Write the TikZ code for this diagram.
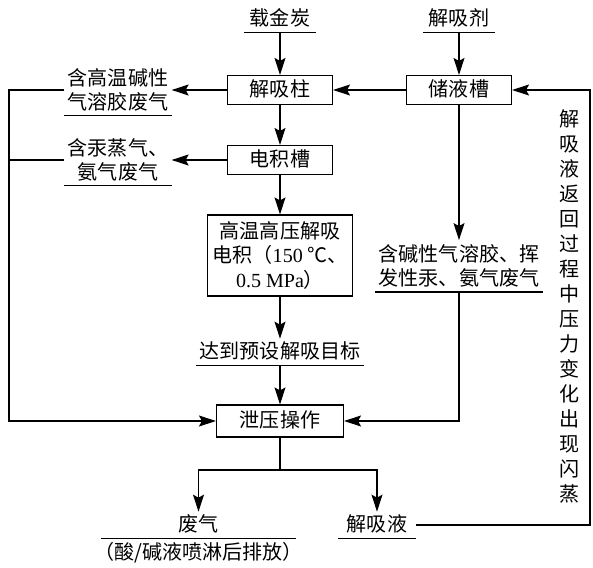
\documentclass[tikz,border=0pt]{standalone}
\usepackage{fontspec}
\setmainfont{Noto Sans CJK SC}
\newfontfamily\latfont{Liberation Serif}
\usetikzlibrary{arrows.meta}
\usetikzlibrary{positioning}
\tikzset{
    stage/.style={
           rectangle,
           draw=black,
           minimum width=2.1cm,
           minimum height=0.58cm,
           inner sep=2pt,
           text centered,
           },
    feed/.style={
           inner xsep=0.06cm,
           inner ysep=0.08cm,
           align=center,
           append after command={(\tikzlastnode.south west) edge[-] (\tikzlastnode.south east)},
           },
    oneline/.style={
           text height=0.88em,
           text depth=0.12em,
           },
}

\begin{document}
\begin{tikzpicture}[->,>={Stealth[length=0.34cm,width=0.22cm,inset=0.06cm]},
  line width=0.65pt, font=\fontsize{11.4}{13.7}\selectfont]
 \useasboundingbox (0,0) rectangle (11.86,-11.34);

 \node[stage, oneline] (JXZ) at (5.6,-1.8) {解吸柱};

 \node[feed, oneline,
 inner xsep=0.11cm,
 node distance=1.42cm,
 above of=JXZ] (ZJT) {载金炭};

 \node[stage, oneline,
 node distance=3.58cm,
 right of=JXZ] (CYC) {储液槽};

 \node[feed, oneline,
 inner xsep=0.11cm,
 node distance=1.42cm,
 above of=CYC] (JXJ) {解吸剂};

 \node[stage, oneline,
 node distance=1.4cm,
 below of=JXZ] (DJC) {电积槽};

 \node[stage,
 align=center,
 minimum width=2.9cm,
 minimum height=1.62cm,
 node distance=1.91cm,
 below of=DJC] (GWGY)
 {高温高压解吸\\电积（{\latfont 150} ℃、\\{\latfont 0.5 MPa}）};

 \node[feed, oneline,
 node distance=1.93cm,
 below of=GWGY] (DDYS) {达到预设解吸目标};

 \node[stage, oneline,
 minimum width=2.54cm,
 minimum height=0.64cm,
 node distance=1.38cm,
 below of=DDYS] (XYCZ) {泄压操作};

 \node[feed,
 node distance=3.24cm,
 left of=JXZ] (HGW) {含高温碱性\\气溶胶废气};

 \node[feed,
 node distance=3.24cm,
 left of=DJC] (HGZ) {含汞蒸气、\\氨气废气};

 \node[feed,
 node distance=3.52cm,
 below of=CYC] (HJX) {含碱性气溶胶、挥\\发性汞、氨气废气};

 \node[feed, oneline, minimum width=3.86cm] (FQ) at (3.97,-10.5) {废气};
 \node[oneline, inner sep=0pt,
 node distance=0.56cm,
 below of=FQ] (FQBZ) {（酸/碱液喷淋后排放）};

 \node[feed, oneline, inner xsep=0.17cm] (JXY) at (7.54,-10.5) {解吸液};

 \node[align=center, font=\fontsize{11.4}{14.23}\selectfont] (FZ) at (11.4,-6.13)
 {解\\吸\\液\\返\\回\\过\\程\\中\\压\\力\\变\\化\\出\\现\\闪\\蒸};

 \coordinate (BEND) at (0.18,-1.8);
 \coordinate (SPLIT) at (5.6,-9.4);
 \coordinate (RET) at (11.8,-10.5);

 \path (ZJT) edge (JXZ)
   (JXJ) edge (CYC)
   (CYC) edge (JXZ)
   (JXZ) edge (HGW)
   (JXZ) edge (DJC)
   (DJC) edge (HGZ)
   (DJC) edge (GWGY)
   (GWGY) edge (DDYS)
   (DDYS) edge (XYCZ)
   (CYC) edge (HJX)
 ;

 % side streams to pressure release
 \draw (HGW.west) -- (BEND) |- (XYCZ.west);
 \draw[-] (HGZ.west) -- (BEND |- HGZ.west);
 \draw (HJX.south) |- (XYCZ.east);

 % outputs
 \draw[-] (XYCZ.south) -- (SPLIT);
 \draw (SPLIT) -| (FQ.north);
 \draw (SPLIT) -| (JXY.north);
 \draw (JXY.east) -- (RET) |- (CYC.east);
\end{tikzpicture}
\end{document}
